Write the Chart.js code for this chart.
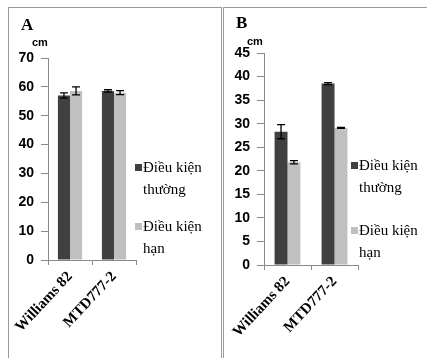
<!DOCTYPE html>
<html><head><meta charset="utf-8">
<script src="https://cdn.jsdelivr.net/npm/chart.js@4.4.0/dist/chart.umd.min.js"></script>
<style>
html,body{margin:0;padding:0;background:#fff;width:427px;height:358px;overflow:hidden;position:relative;}
.panel{position:absolute;border-left:1px solid #9a9a9a;border-top:1px solid #9a9a9a;}
.cv{position:absolute;}
.t{position:absolute;white-space:nowrap;color:#000;}
.ttl{font:bold 17px "Liberation Serif",serif;}
.cm{font:bold 11px "Liberation Sans",sans-serif;}
.lg{font:15px "Liberation Serif",serif;line-height:22px;}
.sq{position:absolute;width:7px;height:7px;}
</style></head><body>
<div class="panel" style="left:8px;top:7px;width:212px;height:360px;border-right:1px solid #9a9a9a;"></div>
<div class="panel" style="left:223px;top:7px;width:210px;height:360px;"></div>
<canvas id="cA" class="cv" style="left:9px;top:8px;" width="210" height="350"></canvas>
<canvas id="cB" class="cv" style="left:224px;top:8px;" width="203" height="350"></canvas>

<div class="t ttl" style="left:21px;top:15px;">A</div>
<div class="t cm" style="left:32px;top:36px;">cm</div>
<div class="t ttl" style="left:236px;top:13px;">B</div>
<div class="t cm" style="left:247px;top:35px;">cm</div>

<div class="sq" style="left:135px;top:164px;background:#404040"></div>
<div class="t lg" style="left:143px;top:156px;">Điều kiện<br>thường</div>
<div class="sq" style="left:135px;top:223px;background:#c0c0c0"></div>
<div class="t lg" style="left:143px;top:215px;">Điều kiện<br>hạn</div>

<div class="sq" style="left:351px;top:162px;background:#404040"></div>
<div class="t lg" style="left:359px;top:154px;">Điều kiện<br>thường</div>
<div class="sq" style="left:351px;top:227px;background:#c0c0c0"></div>
<div class="t lg" style="left:359px;top:219px;">Điều kiện<br>hạn</div>

<script>
const categories = ["Williams 82", "MTD777-2"];
const seriesNames = ["Điều kiện thường", "Điều kiện hạn"];
// Panel A
const aNormal = [57.0, 58.6];
const aNormalErr = [0.9, 0.4];
const aDrought = [58.6, 58.0];
const aDroughtErr = [1.4, 0.7];
const aTicks = [0, 10, 20, 30, 40, 50, 60, 70];
// Panel B
const bNormal = [28.3, 38.5];
const bNormalErr = [1.5, 0.2];
const bDrought = [21.8, 29.1];
const bDroughtErr = [0.35, 0.12];
const bTicks = [0, 5, 10, 15, 20, 25, 30, 35, 40, 45];

const errPlugin = {
  id: 'err',
  afterDatasetsDraw(chart) {
    const ctx = chart.ctx, ys = chart.scales.y;
    ctx.save();
    ctx.strokeStyle = '#000'; ctx.lineWidth = 1.3;
    chart.data.datasets.forEach((ds, di) => {
      const meta = chart.getDatasetMeta(di);
      meta.data.forEach((bar, i) => {
        const v = ds.data[i], e = ds.err[i];
        const y1 = ys.getPixelForValue(v + e), y2 = ys.getPixelForValue(v - e);
        const x = bar.x;
        ctx.beginPath();
        ctx.moveTo(x, y1); ctx.lineTo(x, y2);
        ctx.moveTo(x - 4, y1); ctx.lineTo(x + 4, y1);
        ctx.moveTo(x - 4, y2); ctx.lineTo(x + 4, y2);
        ctx.stroke();
      });
    });
    ctx.restore();
  }
};

function make(id, d1, e1, d2, e2, ticks, max, pad, yW, xH, catPct) {
  new Chart(document.getElementById(id), {
    type: 'bar',
    data: {
      labels: categories,
      datasets: [
        {label: seriesNames[0], data: d1, err: e1, backgroundColor: '#404040', borderWidth:0},
        {label: seriesNames[1], data: d2, err: e2, backgroundColor: '#c0c0c0', borderWidth:0}
      ]
    },
    options: {
      responsive: false, animation: false, devicePixelRatio: 1,
      layout: {padding: pad},
      plugins: {legend: {display: false}, tooltip: {enabled: false}},
      datasets: {bar: {barPercentage: 1, categoryPercentage: catPct}},
      scales: {
        x: {
          grid: {display: true, drawOnChartArea: false, drawTicks: true, tickLength: 5, color: '#8a8a8a', offset: true},
          border: {display: true, color: '#8a8a8a', width: 1},
          ticks: {autoSkip: false, minRotation: 47, maxRotation: 47, padding: 3, color: '#000',
                  font: {family: '"Liberation Serif", serif', size: 15, weight: 'bold'}},
          afterFit(s) { s.height = xH; s.paddingLeft = 0; s.paddingRight = 0; }
        },
        y: {
          min: 0, max: max,
          afterBuildTicks(s) { s.ticks = ticks.map(v => ({value: v})); },
          grid: {display: true, drawOnChartArea: false, drawTicks: true, tickLength: 7, color: '#8a8a8a'},
          border: {display: true, color: '#8a8a8a', width: 1},
          ticks: {padding: 7, color: '#000', font: {family: '"Liberation Sans", sans-serif', size: 14, weight: 'bold'}},
          afterFit(s) { s.width = yW; s.paddingTop = 0; s.paddingBottom = 0; }
        }
      }
    },
    plugins: [errPlugin]
  });
}

make('cA', aNormal, aNormalErr, aDrought, aDroughtErr, aTicks, 70,
     {left: 0, top: 50, right: 83, bottom: 0}, 39, 98, 0.55);
make('cB', bNormal, bNormalErr, bDrought, bDroughtErr, bTicks, 45,
     {left: 0, top: 45, right: 69, bottom: 0}, 40, 93, 0.55);
</script>
</body></html>
